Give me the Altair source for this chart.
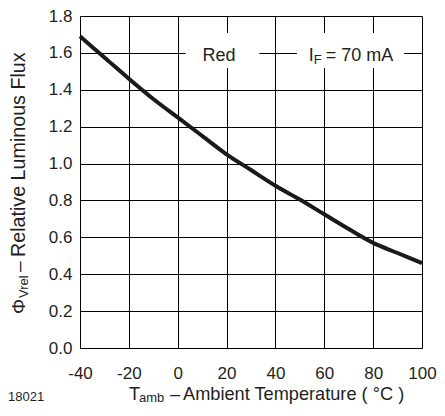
import altair as alt
import pandas as pd

# ---- data ----
temperature = [-40, -30, -20, -10, 0, 10, 20, 30, 40, 50, 60, 70, 80, 90, 100]
rel_flux = [1.69, 1.575, 1.46, 1.35, 1.25, 1.15, 1.05, 0.965, 0.88, 0.805, 0.725, 0.645, 0.57, 0.515, 0.46]

x_ticks = [-40, -20, 0, 20, 40, 60, 80, 100]
y_ticks = [0.0, 0.2, 0.4, 0.6, 0.8, 1.0, 1.2, 1.4, 1.6, 1.8]

# in-plot labels (data units) and white backdrops behind them
label_text = ["Red"]
label_x = [16.9]
label_y = [1.6]
cond_main = "I"
cond_sub = "F"
cond_rest = "= 70 mA"
cond_x = [53.6]
cond_y = [1.6]
box_x = [3.2, 48.8]
box_x2 = [33.4, 92.7]
box_y = [1.518, 1.518]
box_y2 = [1.708, 1.708]

x_title_parts = ["T", "amb", "–", "Ambient Temperature ( °C )"]
y_title_parts = ["Φ", "Vrel", "–", "Relative Luminous Flux"]
figure_id = "18021"

FONT = "Liberation Sans"
INK = "#231f20"

curve_df = pd.DataFrame({"T": temperature, "flux": rel_flux})
box_df = pd.DataFrame({"x": box_x, "x2": box_x2, "y": box_y, "y2": box_y2})
label_df = pd.DataFrame({"x": label_x, "y": label_y, "t": label_text})
cond_df = pd.DataFrame({"x": cond_x, "y": cond_y})

xscale = alt.Scale(domain=[-40, 100], nice=False, zero=False)
yscale = alt.Scale(domain=[0, 1.8], nice=False, zero=False)

xaxis = alt.Axis(
    values=x_ticks, title=None, grid=True, ticks=False, domain=False,
    labelPadding=17, labelFontSize=17, labelFont=FONT, labelColor=INK,
    labelFlush=False, labelOverlap=False,
    labelExpr="datum.value < 0 ? '-' + abs(datum.value) : '' + datum.value",
    gridColor="#000000", gridWidth=1, gridOpacity=1,
)
yaxis = alt.Axis(
    values=y_ticks, title=None, grid=True, ticks=False, domain=False, format=".1f",
    labelPadding=8, labelFontSize=17, labelFont=FONT, labelColor=INK,
    labelOverlap=False, labelFlush=False,
    gridColor="#000000", gridWidth=1, gridOpacity=1,
)

def X(field):
    return alt.X(field, type="quantitative", scale=xscale, axis=xaxis)

def Y(field):
    return alt.Y(field, type="quantitative", scale=yscale, axis=yaxis)

curve = alt.Chart(curve_df).mark_line(
    color="#1a1a1a", strokeWidth=4, interpolate="monotone"
).encode(x=X("T"), y=Y("flux"))

boxes = alt.Chart(box_df).mark_rect(color="white").encode(
    x=X("x"), x2="x2:Q", y=Y("y"), y2="y2:Q",
)

labels = alt.Chart(label_df).mark_text(
    font=FONT, fontSize=18, color=INK, align="center", baseline="alphabetic", dy=8
).encode(x=X("x"), y=Y("y"), text="t:N")

def cond_piece(txt, size, dx, dy):
    return alt.Chart(cond_df).mark_text(
        font=FONT, fontSize=size, color=INK, align="left", baseline="alphabetic", dx=dx, dy=dy
    ).encode(x=X("x"), y=Y("y"), text=alt.value(txt))

cond = cond_piece(cond_main, 18, 0, 8) + cond_piece(cond_sub, 13, 5, 11) + cond_piece(cond_rest, 18, 17, 8)

def free_text(txt, size, x, y, angle=0):
    props = dict(font=FONT, fontSize=size, color=INK, align="left", baseline="alphabetic")
    if angle:
        props["angle"] = angle
    return alt.Chart(pd.DataFrame({"t": [txt]})).mark_text(**props).encode(
        x=alt.value(x), y=alt.value(y), text="t:N"
    )

titles = (
    free_text(x_title_parts[0], 18.2, 49, 383.5)
    + free_text(x_title_parts[1], 13, 59, 386)
    + free_text(x_title_parts[2], 18.2, 90, 383.5)
    + free_text(x_title_parts[3], 18.2, 103, 383.5)
    + free_text(y_title_parts[0], 19, -55, 298, 270)
    + free_text(y_title_parts[1], 13, -52, 282, 270)
    + free_text(y_title_parts[2], 19, -55, 256, 270)
    + free_text(y_title_parts[3], 19.7, -55, 241, 270)
    + free_text(figure_id, 13, -72, 385)
)

chart = alt.layer(curve, boxes, labels, cond, titles).properties(
    width=342, height=332,
    autosize=alt.AutoSizeParams(type="none"),
    padding={"left": 72, "top": 8, "right": 15, "bottom": 56},
).configure_view(stroke="#2a2a2a", strokeWidth=2.5).configure(background="white")

chart.save("out.html", embed_options={"renderer": "svg", "actions": False})
